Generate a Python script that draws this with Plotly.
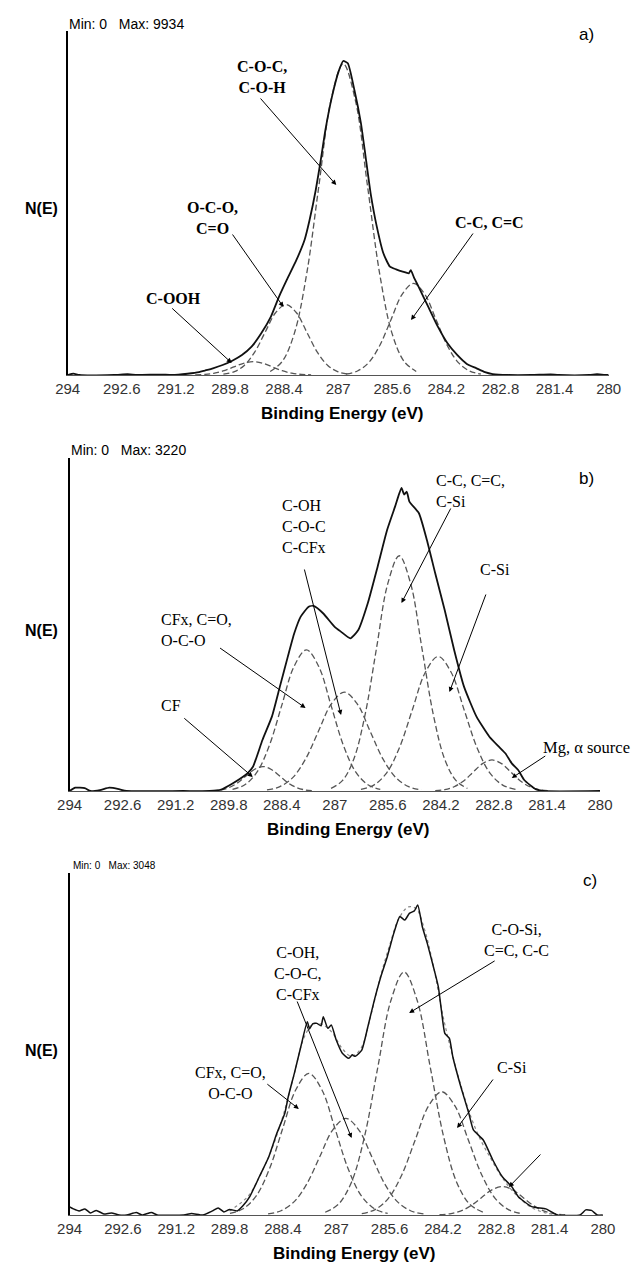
import plotly.graph_objects as go

W, H = 637, 1263

# ---------------- tick labels ----------------
TICK_VALS = [294, 292.6, 291.2, 289.8, 288.4, 287, 285.6, 284.2, 282.8, 281.4, 280]
TICK_TEXT = ["294", "292.6", "291.2", "289.8", "288.4", "287", "285.6", "284.2", "282.8", "281.4", "280"]

# ---------------- panel a ----------------
A_MAX = 9934
A_SPEC_E = [294.0, 293.85, 293.7, 292.8, 292.45, 292.2, 291.6, 291.3, 290.9, 290.6, 290.45, 290.24,
            289.99, 289.74, 289.49, 289.24, 288.99, 288.74, 288.53, 288.33, 288.08, 287.87, 287.74,
            287.58, 287.45, 287.33, 287.16, 286.99, 286.87, 286.75, 286.58, 286.41, 286.29, 286.16,
            286.0, 285.83, 285.66, 285.5, 285.33, 285.17, 285.12, 285.04, 284.92, 284.67, 284.42,
            284.17, 283.92, 283.67, 283.42, 283.2, 283.0, 282.6, 282.0, 281.5, 281.3, 280.5, 280.3,
            280.1, 280.0]
A_SPEC_I = [0, 45, 0, 0, 25, 0, 15, 0, 40, 90, 140, 211,
            316, 453, 633, 897, 1318, 1846, 2478, 3006, 3639, 4271, 4904,
            5853, 6803, 7752, 8806, 9597, 9934, 9861, 9017, 7963, 6908, 5748,
            4693, 3850, 3428, 3343, 3270, 3217, 3320, 3090, 2795, 2162, 1529,
            1002, 633, 348, 211, 90, 30, 0, 0, 20, 0, 0, 25,
            0, 0]
A_COOH_E = [290.7, 290.45, 290.2, 289.95, 289.7, 289.45, 289.2, 288.95, 288.7, 288.45, 288.2, 287.95, 287.7]
A_COOH_I = [5, 18, 57, 136, 255, 371, 420, 371, 255, 136, 57, 18, 5]
A_OCO_E = [289.97, 289.7, 289.43, 289.16, 288.89, 288.62, 288.35, 288.08, 287.81, 287.54, 287.27, 287.0, 286.73]
A_OCO_I = [25, 98, 302, 724, 1352, 1968, 2230, 1968, 1352, 724, 302, 98, 25]
A_COC_E = [288.76, 288.445, 288.13, 287.815, 287.5, 287.185, 286.87, 286.555, 286.24, 285.925, 285.61, 285.295, 284.98]
A_COC_I = [109, 432, 1333, 3198, 5974, 8693, 9850, 8693, 5974, 3198, 1333, 432, 109]
A_CC_E = [286.79, 286.5, 286.21, 285.92, 285.63, 285.34, 285.05, 284.76, 284.47, 284.18, 283.89, 283.6, 283.31]
A_CC_I = [32, 127, 392, 942, 1759, 2559, 2900, 2559, 1759, 942, 392, 127, 32]

# ---------------- panel b ----------------
B_MAX = 3220
B_SPEC_E = [294.0, 293.85, 293.6, 293.45, 293.2, 292.95, 292.7, 292.5, 291.0, 290.3, 290.0, 289.7,
            289.5, 289.3, 289.16, 288.91, 288.66, 288.45, 288.24, 288.07, 287.9, 287.69, 287.56,
            287.31, 287.01, 286.84, 286.59, 286.38, 286.13, 285.87, 285.62, 285.41, 285.24, 285.17,
            285.1, 285.03, 284.78, 284.57, 284.35, 284.1, 283.85, 283.59, 283.26, 282.92, 282.67,
            282.5, 282.33, 282.16, 282.0, 281.7, 281.5, 280.0]
B_SPEC_I = [0, 35, 30, 0, 10, 35, 20, 0, 0, 0, 15, 80,
            130, 191, 258, 542, 790, 1109, 1428, 1676, 1853, 1959, 1967,
            1889, 1747, 1694, 1623, 1711, 1995, 2384, 2774, 3022, 3220, 3150,
            3180, 3075, 2952, 2668, 2314, 1924, 1499, 1109, 790, 577, 471,
            401, 294, 223, 117, 20, 0, 0]
B_CF_E = [290.25, 290.025, 289.8, 289.575, 289.35, 289.125, 288.9, 288.675, 288.45, 288.225, 288.0, 287.775, 287.55]
B_CF_I = [3, 11, 35, 84, 158, 229, 260, 229, 158, 84, 35, 11, 3]
B_CFX_E = [289.7, 289.375, 289.05, 288.725, 288.4, 288.075, 287.75, 287.425, 287.1, 286.775, 286.45, 286.125, 285.8]
B_CFX_I = [17, 66, 203, 487, 910, 1324, 1500, 1324, 910, 487, 203, 66, 17]
B_COH_E = [288.79, 288.45, 288.11, 287.77, 287.43, 287.09, 286.75, 286.41, 286.07, 285.73, 285.39, 285.05, 284.71]
B_COH_I = [12, 46, 142, 341, 637, 927, 1050, 927, 637, 341, 142, 46, 12]
B_CC_E = [287.1, 286.8, 286.5, 286.2, 285.9, 285.6, 285.3, 285.0, 284.7, 284.4, 284.1, 283.8, 283.5]
B_CC_I = [28, 110, 338, 812, 1516, 2206, 2500, 2206, 1516, 812, 338, 110, 28]
B_CSI_E = [286.31, 285.97, 285.63, 285.29, 284.95, 284.61, 284.27, 283.93, 283.59, 283.25, 282.91, 282.57, 282.23]
B_CSI_I = [16, 63, 193, 464, 867, 1262, 1430, 1262, 867, 464, 193, 63, 16]
B_MG_E = [284.35, 284.1, 283.85, 283.6, 283.35, 283.1, 282.85, 282.6, 282.35, 282.1, 281.85, 281.6, 281.35]
B_MG_I = [4, 14, 45, 107, 200, 291, 330, 291, 200, 107, 45, 14, 4]

# ---------------- panel c ----------------
C_MAX = 3048
C_SPEC_E = [294.0, 293.9, 293.75, 293.6, 293.45, 293.3, 293.1, 292.9, 292.7, 292.5, 292.25, 292.1,
            291.85, 291.7, 291.0, 290.8, 290.5, 290.25, 290.1, 289.95, 289.8, 289.6, 289.45, 289.27,
            289.02, 288.77, 288.56, 288.35, 288.26, 288.1, 287.93, 287.76, 287.7, 287.62, 287.51,
            287.4, 287.34, 287.22, 287.13, 287.0, 286.84, 286.67, 286.58, 286.5, 286.33, 286.17,
            286.0, 285.83, 285.66, 285.49, 285.33, 285.2, 285.08, 284.95, 284.86, 284.74, 284.61,
            284.45, 284.32, 284.24, 284.15, 284.03, 283.94, 283.73, 283.52, 283.4, 283.14, 282.89,
            282.64, 282.39, 282.22, 281.87, 281.5, 281.3, 281.2, 280.6, 280.45, 280.3, 280.15, 280.0]
C_SPEC_I = [80, 60, 40, 60, 20, 45, 10, 20, 0, 0, 25, 0,
            25, 0, 0, 15, 0, 40, 70, 30, 55, 40, 90, 180,
            376, 573, 803, 1000, 1163, 1393, 1654, 1900, 1830, 1880, 1884,
            1860, 1949, 1835, 1868, 1720, 1590, 1540, 1575, 1560, 1622, 1851,
            2113, 2343, 2540, 2769, 2934, 2900, 2966, 2990, 3048, 2834, 2671,
            2441, 2244, 2015, 1786, 1737, 1556, 1261, 1000, 836, 737, 541,
            376, 278, 180, 82, 60, 20, 0, 0, 50, 45, 0, 0]
C_FIT_E = [289.8, 289.3, 289.0, 288.7, 288.4, 288.1, 287.85, 287.6, 287.35, 287.1, 286.85, 286.6,
           286.35, 286.1, 285.85, 285.6, 285.35, 285.1, 284.9, 284.7, 284.45, 284.2, 283.95, 283.7,
           283.45, 283.2, 282.95, 282.7, 282.45, 282.2, 281.9, 281.5, 281.0]
C_FIT_I = [40, 190, 390, 640, 970, 1390, 1740, 1880, 1870, 1790, 1640, 1560,
           1640, 1950, 2330, 2650, 2920, 3030, 3010, 2830, 2450, 1960, 1570, 1240,
           950, 730, 560, 400, 270, 170, 80, 20, 0]
C_CFX_E = [289.79, 289.445, 289.1, 288.755, 288.41, 288.065, 287.72, 287.375, 287.03, 286.685, 286.34, 285.995, 285.65]
C_CFX_I = [15, 61, 188, 452, 845, 1229, 1393, 1229, 845, 452, 188, 61, 15]
C_COH_E = [288.79, 288.45, 288.11, 287.77, 287.43, 287.09, 286.75, 286.41, 286.07, 285.73, 285.39, 285.05, 284.71]
C_COH_I = [11, 42, 129, 308, 576, 838, 950, 838, 576, 308, 129, 42, 11]
C_COSI_E = [287.29, 286.945, 286.6, 286.255, 285.91, 285.565, 285.22, 284.875, 284.53, 284.185, 283.84, 283.495, 283.15]
C_COSI_I = [27, 105, 323, 776, 1450, 2109, 2390, 2109, 1450, 776, 323, 105, 27]
C_CSI_E = [286.33, 285.98, 285.63, 285.28, 284.93, 284.58, 284.23, 283.88, 283.53, 283.18, 282.83, 282.48, 282.13]
C_CSI_I = [13, 53, 164, 394, 735, 1070, 1212, 1070, 735, 394, 164, 53, 13]
C_SMALL_E = [284.29, 284.015, 283.74, 283.465, 283.19, 282.915, 282.64, 282.365, 282.09, 281.815, 281.54, 281.265, 280.99]
C_SMALL_I = [3, 12, 38, 91, 170, 247, 280, 247, 170, 91, 38, 12, 3]


def px(x):
    return x / W


def py(y):
    return 1 - y / H


fig = go.Figure()

SPEC_COLOR = "#111111"
DASH_COLOR = "#555555"

panels = [
    ("x", "y", A_SPEC_E, A_SPEC_I, 1.8,
     [(A_COOH_E, A_COOH_I), (A_OCO_E, A_OCO_I), (A_COC_E, A_COC_I), (A_CC_E, A_CC_I)], None),
    ("x2", "y2", B_SPEC_E, B_SPEC_I, 1.8,
     [(B_CF_E, B_CF_I), (B_CFX_E, B_CFX_I), (B_COH_E, B_COH_I), (B_CC_E, B_CC_I),
      (B_CSI_E, B_CSI_I), (B_MG_E, B_MG_I)], None),
    ("x3", "y3", C_SPEC_E, C_SPEC_I, 1.5,
     [(C_CFX_E, C_CFX_I), (C_COH_E, C_COH_I), (C_COSI_E, C_COSI_I), (C_CSI_E, C_CSI_I),
      (C_SMALL_E, C_SMALL_I)], (C_FIT_E, C_FIT_I)),
]

for xa, ya, se, si, lw, comps, fit in panels:
    for ce, ci in comps:
        fig.add_trace(go.Scatter(x=ce, y=ci, xaxis=xa, yaxis=ya, mode="lines",
                                 line=dict(color=DASH_COLOR, width=1.3, dash="6px,3px", shape="spline"),
                                 hoverinfo="skip", showlegend=False))
    if fit is not None:
        fig.add_trace(go.Scatter(x=fit[0], y=fit[1], xaxis=xa, yaxis=ya, mode="lines",
                                 line=dict(color="#888888", width=1.2, dash="dot", shape="spline"),
                                 hoverinfo="skip", showlegend=False))
    fig.add_trace(go.Scatter(x=se, y=si, xaxis=xa, yaxis=ya, mode="lines",
                             line=dict(color=SPEC_COLOR, width=lw, shape="spline", smoothing=0.5),
                             hoverinfo="skip", showlegend=False))

# axis geometry (pixels)
geo = {
    "a": dict(x0=57, x1=621, top=31, base=375, ymax=A_MAX * (375 - 31) / (375 - 61)),
    "b": dict(x0=59, x1=612, top=458, base=791, ymax=B_MAX * (791 - 458) / (791 - 488)),
    "c": dict(x0=59, x1=615, top=873, base=1215, ymax=C_MAX * (1215 - 873) / (1215 - 905)),
}

tickfont = dict(family="Liberation Sans, Arial", size=15, color="#333333")
for (key, g), (xa, ya) in zip(geo.items(), [("xaxis", "yaxis"), ("xaxis2", "yaxis2"), ("xaxis3", "yaxis3")]):
    xid = "x" if xa == "xaxis" else "x" + xa[-1]
    yid = "y" if ya == "yaxis" else "y" + ya[-1]
    fig.update_layout(**{
        xa: dict(domain=[px(g["x0"]), px(g["x1"])], range=[294, 280], anchor=yid,
                 tickmode="array", tickvals=TICK_VALS, ticktext=TICK_TEXT, tickfont=tickfont,
                 showline=True, linecolor="#555555", linewidth=1, showgrid=False, zeroline=False,
                 ticks="", fixedrange=True),
        ya: dict(domain=[py(g["base"]), py(g["top"])], range=[0, g["ymax"]], anchor=xid,
                 showline=True, linecolor="black", linewidth=2, showgrid=False, zeroline=False,
                 showticklabels=False, ticks="", fixedrange=True),
    })

SANS = "Liberation Sans, Arial"
SERIF = "Liberation Serif, Times New Roman"


def label(text, x, y, size, family, xanchor="center", align="center"):
    return dict(text=text, x=px(x), y=py(y), xref="paper", yref="paper", showarrow=False,
                xanchor=xanchor, yanchor="middle", align=align,
                font=dict(family=family, size=size, color="black"))


def arrow(x0, y0, x1, y1):
    return dict(text="", x=px(x1), y=py(y1), xref="paper", yref="paper",
                ax=x0 - x1, ay=y0 - y1, axref="pixel", ayref="pixel", showarrow=True,
                arrowhead=2, arrowsize=1, arrowwidth=1, arrowcolor="black", standoff=0)


ann = [
    # panel a
    label("Min: 0&nbsp;&nbsp;&nbsp;Max: 9934", 56, 24, 14, SANS, xanchor="left"),
    label("a)", 598, 35, 17, SANS),
    label("<b>N(E)</b>", 30, 208, 16, SANS),
    label("<b>C-O-C,<br>C-O-H</b>", 260, 77, 16, SERIF),
    label("<b>O-C-O,<br>C=O</b>", 208, 218, 16, SERIF),
    label("<b>C-C, C=C</b>", 497, 222, 16, SERIF),
    label("<b>C-OOH</b>", 167, 298, 16, SERIF),
    arrow(260, 97, 337, 185),
    arrow(230, 233, 282, 307),
    arrow(478, 232, 415, 320),
    arrow(167, 307, 228, 363),
    label("<b>Binding Energy (eV)</b>", 343, 413, 17, SANS),
    # panel b
    label("Min: 0&nbsp;&nbsp;&nbsp;Max: 3220", 58, 450, 14, SANS, xanchor="left"),
    label("b)", 598, 478, 17, SANS),
    label("<b>N(E)</b>", 30, 630, 16, SANS),
    label("C-OH<br>C-O-C<br>C-CFx", 278, 526, 16, SERIF, xanchor="left", align="left"),
    label("C-C, C=C,<br>C-Si", 439, 491, 16, SERIF, xanchor="left", align="left"),
    label("C-Si", 503, 570, 16, SERIF),
    label("CFx, C=O,<br>O-C-O", 152, 630, 16, SERIF, xanchor="left", align="left"),
    label("CF", 152, 705, 16, SERIF, xanchor="left"),
    label("Mg, \u03b1 source", 550, 747, 16.5, SERIF, xanchor="left"),
    arrow(305, 568, 342, 715),
    arrow(455, 507, 405, 603),
    arrow(492, 593, 455, 692),
    arrow(218, 647, 305, 708),
    arrow(180, 717, 250, 777),
    arrow(555, 755, 520, 778),
    label("<b>Binding Energy (eV)</b>", 349, 829, 17, SANS),
    # panel c
    label("Min: 0&nbsp;&nbsp;&nbsp;Max: 3048", 60, 865, 10, SANS, xanchor="left"),
    label("c)", 602, 880, 17, SANS),
    label("<b>N(E)</b>", 30, 1050, 16, SANS),
    label("C-OH,<br>C-O-C,<br>C-CFx", 297, 973, 16, SERIF),
    label("C-O-Si,<br>C=C, C-C", 525, 940, 16, SERIF),
    label("C-Si", 520, 1067, 16, SERIF),
    label("CFx, C=O,<br>O-C-O", 227, 1083, 16, SERIF),
    arrow(298, 1000, 353, 1138),
    arrow(500, 960, 413, 1013),
    arrow(500, 1078, 463, 1128),
    arrow(265, 1083, 298, 1109),
    arrow(550, 1153, 517, 1187),
    label("<b>Binding Energy (eV)</b>", 355, 1253, 17, SANS),
]

fig.update_layout(
    width=W, height=H,
    margin=dict(l=0, r=0, t=0, b=0),
    paper_bgcolor="white", plot_bgcolor="white",
    showlegend=False,
    annotations=ann,
)

fig.write_html("out.html", config={"displayModeBar": False})
